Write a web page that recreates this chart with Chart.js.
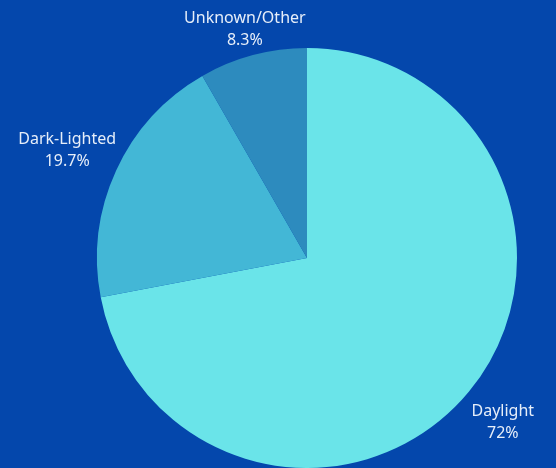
<!DOCTYPE html>
<html>
<head>
<meta charset="utf-8">
<script src="https://cdn.jsdelivr.net/npm/chart.js@4/dist/chart.umd.min.js"></script>
<style>
html,body{margin:0;padding:0;background:#0447ac;}
#wrap{width:556px;height:468px;position:relative;}
</style>
</head>
<body>
<div id="wrap"><canvas id="c" width="556" height="468"></canvas></div>
<script>
const categories = ["Daylight", "Dark-Lighted", "Unknown/Other"];
const values = [72, 19.7, 8.3];
const valueLabels = ["72%", "19.7%", "8.3%"];
const sliceColors = ["#6ae4e9", "#43b7d6", "#2d8bbe"];

// label placement: offset (px) from the arc's outer edge at mid-angle
const labelNudge = [[34, 31], [-49, -20], [-8, -26]];

const outsideLabels = {
  id: 'outsideLabels',
  afterDatasetsDraw(chart) {
    const ctx = chart.ctx;
    const meta = chart.getDatasetMeta(0);
    ctx.save();
    ctx.fillStyle = '#e6eef9';
    ctx.font = '16px "Noto Sans", sans-serif';
    ctx.textAlign = 'center';
    ctx.textBaseline = 'middle';
    meta.data.forEach((arc, i) => {
      const p = arc.getProps(['x', 'y', 'startAngle', 'endAngle', 'outerRadius'], true);
      const mid = (p.startAngle + p.endAngle) / 2;
      const ax = p.x + Math.cos(mid) * p.outerRadius + labelNudge[i][0];
      const ay = p.y + Math.sin(mid) * p.outerRadius + labelNudge[i][1];
      ctx.fillText(categories[i], ax, ay - 11);
      ctx.fillText(valueLabels[i], ax, ay + 11);
    });
    ctx.restore();
  }
};

new Chart(document.getElementById('c'), {
  type: 'pie',
  data: {
    labels: categories,
    datasets: [{
      data: values,
      backgroundColor: sliceColors,
      borderWidth: 0
    }]
  },
  options: {
    responsive: false,
    animation: false,
    layout: { padding: { left: 97, right: 39, top: 48, bottom: 0 } },
    plugins: { legend: { display: false }, tooltip: { enabled: false } }
  },
  plugins: [outsideLabels]
});
</script>
</body>
</html>
